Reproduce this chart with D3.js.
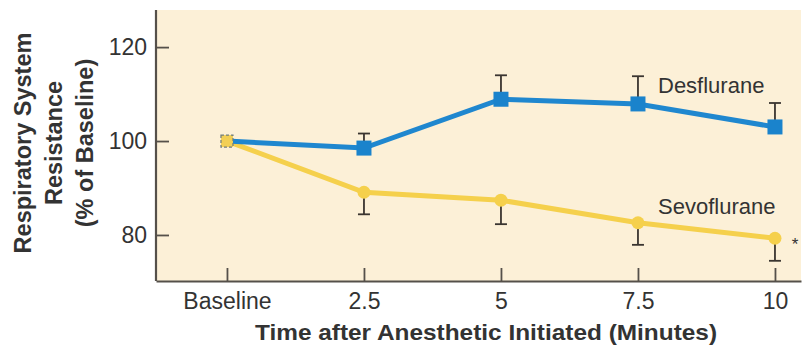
<!DOCTYPE html>
<html>
<head>
<meta charset="utf-8">
<script src="https://cdn.jsdelivr.net/npm/d3@7"></script>
<style>
  html, body { margin: 0; padding: 0; background: #ffffff; }
  svg { display: block; }
  text { font-family: "Liberation Sans", Arial, Helvetica, sans-serif; fill: #333; }
</style>
</head>
<body>
<svg id="chart" width="803" height="350"></svg>
<script>
// ---- data ----
const categories = ["Baseline", "2.5", "5", "7.5", "10"];
const desflurane = [100, 98.5, 108.9, 107.9, 103.0];
const desfluraneUpper = [null, 101.6, 114.0, 113.8, 108.1];
const sevoflurane = [100, 89.1, 87.4, 82.6, 79.3];
const sevofluraneLower = [null, 84.4, 82.3, 77.9, 74.5];
const yTicks = [80, 100, 120];
const seriesNames = ["Desflurane", "Sevoflurane"];

(function () {
// ---- layout ----
const svg = d3.select("#chart");
const pLeft = 156, pRight = 801, pTop = 10, pBottom = 281;

const x = d3.scaleLinear().domain([-0.518, 4.19]).range([pLeft, pRight]);
const y = d3.scaleLinear().domain([70.2, 127.9]).range([pBottom, pTop]);

// panel background
svg.append("rect")
  .attr("x", pLeft).attr("y", pTop)
  .attr("width", pRight - pLeft).attr("height", pBottom - pTop)
  .attr("fill", "#fcf0d7");

// axes
const axisColor = "#55504a";
const xAxis = d3.axisBottom(x)
  .tickValues(d3.range(categories.length))
  .tickFormat(i => categories[i])
  .tickSizeInner(-13).tickSizeOuter(0).tickPadding(12);
const gx = svg.append("g").attr("transform", `translate(0,${pBottom})`).call(xAxis);
gx.select(".domain").attr("stroke", axisColor).attr("stroke-width", 2.2);
gx.selectAll(".tick line").attr("stroke", axisColor).attr("stroke-width", 1.8);
gx.selectAll(".tick text").attr("font-size", 23).attr("fill", "#383838")
  .attr("font-family", "Liberation Sans, Arial, sans-serif").attr("dy", "0.71em");

const yAxis = d3.axisLeft(y)
  .tickValues(yTicks)
  .tickSizeInner(-13).tickSizeOuter(0).tickPadding(9);
const gy = svg.append("g").attr("transform", `translate(${pLeft},0)`).call(yAxis);
gy.select(".domain").attr("stroke", axisColor).attr("stroke-width", 2.2)
  .attr("d", `M0,${pTop}V${pBottom}`);
gy.selectAll(".tick line").attr("stroke", axisColor).attr("stroke-width", 1.8);
gy.selectAll(".tick text").attr("font-size", 23).attr("fill", "#383838")
  .attr("font-family", "Liberation Sans, Arial, sans-serif");

// axis titles
svg.append("text")
  .attr("x", 255).attr("y", 340)
  .attr("text-anchor", "start")
  .attr("font-size", 22).attr("font-weight", "bold").attr("fill", "#222")
  .attr("textLength", 462).attr("lengthAdjust", "spacingAndGlyphs")
  .text("Time after Anesthetic Initiated (Minutes)");

const yTitle = ["Respiratory System", "Resistance", "(% of Baseline)"];
const yTitleX = [31, 62, 93];
yTitle.forEach((t, i) => {
  svg.append("text")
    .attr("transform", `translate(${yTitleX[i]},143) rotate(-90)`)
    .attr("text-anchor", "middle")
    .attr("font-size", 23.5).attr("font-weight", "bold").attr("fill", "#222")
    .text(t);
});

// error bars
const errColor = "#3a3530";
function errBars(vals, ends) {
  const g = svg.append("g").attr("stroke", errColor).attr("stroke-width", 1.8).attr("fill", "none");
  vals.forEach((v, i) => {
    if (ends[i] == null) return;
    g.append("line").attr("x1", x(i)).attr("x2", x(i)).attr("y1", y(v)).attr("y2", y(ends[i]));
    g.append("line").attr("x1", x(i) - 6).attr("x2", x(i) + 6).attr("y1", y(ends[i])).attr("y2", y(ends[i]));
  });
}
errBars(desflurane, desfluraneUpper);
errBars(sevoflurane, sevofluraneLower);

// lines
const line = d3.line().x((d, i) => x(i)).y(d => y(d));
svg.append("path").datum(sevoflurane).attr("d", line)
  .attr("fill", "none").attr("stroke", "#f5d04c").attr("stroke-width", 5);
svg.append("path").datum(desflurane).attr("d", line)
  .attr("fill", "none").attr("stroke", "#1f87cf").attr("stroke-width", 5);

// markers
svg.selectAll(".sevo").data(sevoflurane.slice(1)).enter().append("circle")
  .attr("cx", (d, i) => x(i + 1)).attr("cy", d => y(d)).attr("r", 6.5)
  .attr("fill", "#f5d04c");
const sq = 15;
svg.selectAll(".des").data(desflurane.slice(1)).enter().append("rect")
  .attr("x", (d, i) => x(i + 1) - sq / 2).attr("y", d => y(d) - sq / 2)
  .attr("width", sq).attr("height", sq)
  .attr("fill", "#1a83cc");
// baseline shared marker
svg.append("rect")
  .attr("x", x(0) - 6).attr("y", y(desflurane[0]) - 6)
  .attr("width", 12).attr("height", 12)
  .attr("fill", "#f2cf55").attr("stroke", "#6f7c7c").attr("stroke-width", 1.2)
  .attr("stroke-dasharray", "3,2");

// series labels
svg.append("text").attr("x", 658).attr("y", 93)
  .attr("font-size", 22).attr("fill", "#333").text(seriesNames[0]);
svg.append("text").attr("x", 658).attr("y", 214)
  .attr("font-size", 22).attr("fill", "#333").text(seriesNames[1]);
svg.append("text").attr("x", 795).attr("y", 250)
  .attr("text-anchor", "middle")
  .attr("font-size", 17).attr("fill", "#333").text("*");
})();
</script>
</body>
</html>
